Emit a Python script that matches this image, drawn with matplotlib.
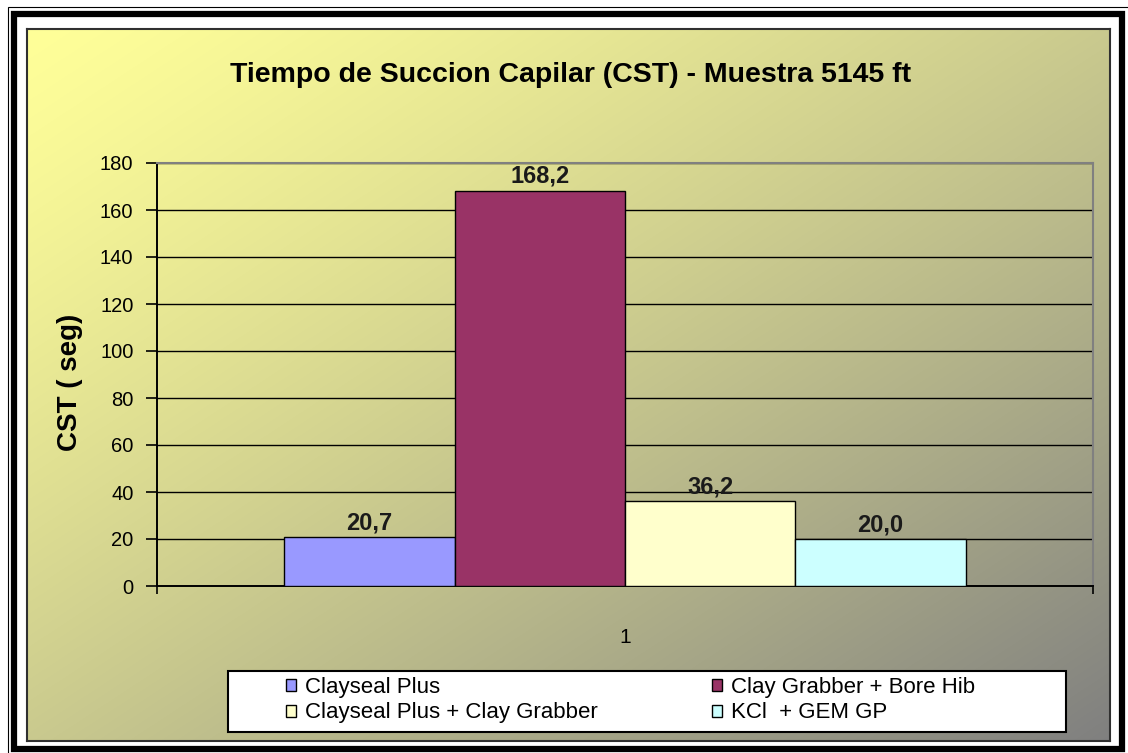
import numpy as np
import matplotlib
matplotlib.use("Agg")
import matplotlib.pyplot as plt
from matplotlib.patches import Rectangle, Patch

plt.rcParams["font.family"] = ["Liberation Sans", "DejaVu Sans"]

# ── Data ───────────────────────────────────────────────────────
series = ["Clayseal Plus", "Clay Grabber + Bore Hib",
          "Clayseal Plus + Clay Grabber", "KCl  + GEM GP"]
cst_values = [20.7, 168.2, 36.2, 20.0]
colors = ["#9999FF", "#993366", "#FFFFCC", "#CCFFFF"]
category = "1"
y_ticks = [0, 20, 40, 60, 80, 100, 120, 140, 160, 180]

W, H = 1128, 753


def box(x0, y0, x1, y1):
    """pixel box (top-left origin) -> figure fraction [l, b, w, h]"""
    return [x0 / W, 1 - y1 / H, (x1 - x0) / W, (y1 - y0) / H]


fig = plt.figure(figsize=(W / 100, H / 100), dpi=100)
fig.patch.set_facecolor("white")

# ── Outer double frame ─────────────────────────────────────────
l, b, w, h = box(8, 7, 1130, 756)
fig.patches.append(Rectangle((l, b), w, h, transform=fig.transFigure,
                             fill=False, edgecolor="black", linewidth=0.8))
l, b, w, h = box(14, 14, 1122, 749)
fig.patches.append(Rectangle((l, b), w, h, transform=fig.transFigure,
                             fill=False, edgecolor="black", linewidth=4.5))

# ── Chart area with diagonal gradient ──────────────────────────
bg = fig.add_axes(box(27, 29, 1110, 741))
gx, gy = np.meshgrid(np.linspace(0, 1, 400), np.linspace(0, 1, 300))
t = (((gx + gy) / 2) ** 1.25)[..., None]
c0 = np.array([1.0, 1.0, 0.6])
c1 = np.array([0.5, 0.5, 0.5])
bg.imshow(c0 * (1 - t) + c1 * t, aspect="auto", interpolation="bilinear")
bg.set_xticks([])
bg.set_yticks([])
for s in bg.spines.values():
    s.set_color("#303030")
    s.set_linewidth(1.5)

# ── Plot area ──────────────────────────────────────────────────
ax = fig.add_axes(box(157, 163, 1093, 586))
ax.patch.set_alpha(0)

width = 0.182
offsets = (np.arange(len(series)) - 1.5) * width
for off, val, col, name in zip(offsets, cst_values, colors, series):
    bc = ax.bar(off, val, width=width, color=col, edgecolor="black",
                linewidth=1.0, zorder=3, label=name)
    ax.bar_label(bc, labels=[f"{val:.1f}".replace(".", ",")], padding=2,
                 fontsize=17, fontweight="bold", color="#1a1a1a", zorder=4)

ax.set_xlim(-0.5, 0.5)
ax.set_ylim(0, 180)
ax.set_yticks(y_ticks)
ax.tick_params(axis="y", direction="out", length=8, width=1.2,
               labelsize=14.5, pad=9, colors="black")
ax.set_xticks([-0.5, 0.5])
ax.set_xticklabels(["", ""])
ax.tick_params(axis="x", direction="out", length=6, width=1.2)
ax.set_xticks([0], minor=True)
ax.set_xticklabels([category], minor=True)
ax.tick_params(axis="x", which="minor", length=0, labelsize=15, pad=30)

ax.yaxis.grid(True, color="black", linewidth=1.0, zorder=1)
ax.set_axisbelow(True)
ax.spines["left"].set_linewidth(1.4)
ax.spines["bottom"].set_linewidth(1.4)
ax.spines["top"].set_color("#808080")
ax.spines["right"].set_color("#808080")
ax.spines["top"].set_linewidth(1.5)
ax.spines["right"].set_linewidth(1.5)

ax.set_ylabel("CST ( seg)", fontsize=20, fontweight="bold")
ax.yaxis.set_label_coords(-0.079, 0.482)

fig.text(571 / W, 1 - 75 / H,
         "Tiempo de Succion Capilar (CST) - Muestra 5145 ft",
         ha="center", va="center", fontsize=20.5, fontweight="bold")

# ── Legend box ─────────────────────────────────────────────────
l, b, w, h = box(228, 671, 1066, 732)
fig.patches.append(Rectangle((l, b), w, h, transform=fig.transFigure,
                             facecolor="white", edgecolor="black",
                             linewidth=1.5, zorder=5))

handles = [Patch(facecolor=c, edgecolor="black", linewidth=1.0) for c in colors]
columns = [[0, 2], [1, 3]]
col_x = [286, 712]
for idx, x in zip(columns, col_x):
    leg = fig.legend([handles[i] for i in idx], [series[i] for i in idx],
                     loc="upper left", bbox_to_anchor=(x / W, 1 - 677 / H),
                     frameon=False, fontsize=16, borderpad=0,
                     borderaxespad=0, handlelength=0.45, handleheight=0.45,
                     handletextpad=0.4, labelspacing=0.2)
    leg.set_zorder(6)

fig.savefig("out.png", dpi=100)
